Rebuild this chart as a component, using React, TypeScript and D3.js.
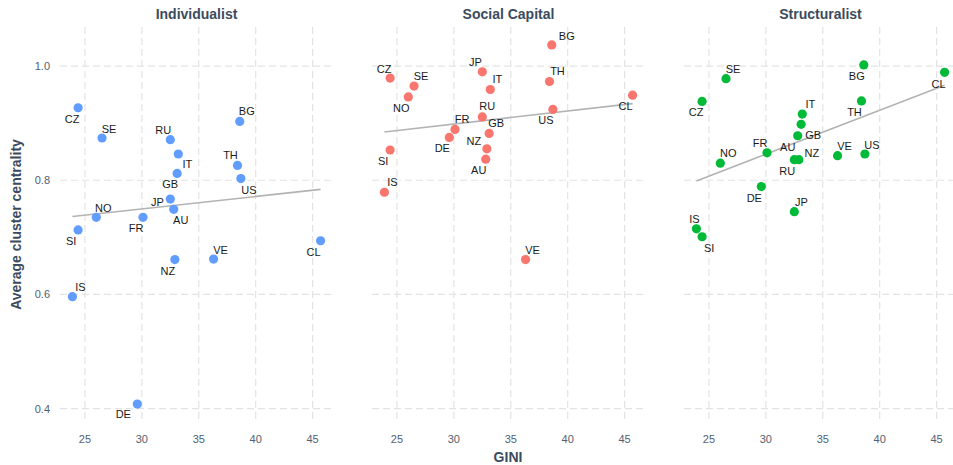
import React from "react";
import { scaleLinear, extent, mean } from "d3";

// countries, GINI and centrality per approach
const countries = ["AU", "BG", "CL", "CZ", "DE", "FR", "GB", "IS", "IT", "JP", "NO", "NZ", "RU", "SE", "SI", "TH", "US", "VE"];
const gini = [32.8, 38.6, 45.7, 24.4, 29.6, 30.1, 33.1, 23.9, 33.2, 32.5, 26.0, 32.9, 32.5, 26.5, 24.4, 38.4, 38.7, 36.3];
const individualist = [0.749, 0.903, 0.694, 0.927, 0.408, 0.735, 0.812, 0.596, 0.846, 0.767, 0.735, 0.661, 0.871, 0.874, 0.713, 0.826, 0.803, 0.662];
const socialCapital = [0.837, 1.037, 0.949, 0.979, 0.875, 0.889, 0.882, 0.779, 0.959, 0.99, 0.946, 0.855, 0.911, 0.965, 0.853, 0.973, 0.924, 0.661];
const structuralist = [0.878, 1.002, 0.989, 0.938, 0.789, 0.848, 0.898, 0.715, 0.916, 0.745, 0.83, 0.836, 0.836, 0.978, 0.701, 0.939, 0.846, 0.843];
const panelTitles = ["Individualist", "Social Capital", "Structuralist"];
const xTicks = [25, 30, 35, 40, 45];
const yTicks = [0.4, 0.6, 0.8, 1.0];

// label placement (px offset from the point), like ggrepel put them
const nudges: Record<string, number[]>[] = [
  { AU: [7, 11], BG: [7, -10], CL: [-7, 11], CZ: [-6, 11], DE: [-14, 10], FR: [-7, 11], GB: [-7, 11], IS: [8, -10], IT: [9, 10], JP: [-13, 3], NO: [7, -9], NZ: [-7, 11], RU: [-7, -10], SE: [7, -9], SI: [-7, 11], TH: [-7, -10], US: [8, 11], VE: [7, -9] },
  { AU: [-7, 11], BG: [15, -9], CL: [-7, 11], CZ: [-6, -9], DE: [-7, 11], FR: [7, -10], GB: [7, -10], IS: [8, -10], IT: [7, -10], JP: [-7, -10], NO: [-7, 11], NZ: [-13, -8], RU: [5, -11], SE: [7, -10], SI: [-7, 11], TH: [8, -10], US: [-7, 11], VE: [7, -10] },
  { AU: [-10, 11], BG: [-7, 11], CL: [-6, 12], CZ: [-6, 11], DE: [-7, 11], FR: [-7, -10], GB: [12, 11], IS: [-2, -10], IT: [8, -10], JP: [7, -10], NO: [8, -10], NZ: [13, -7], RU: [-7, 11], SE: [7, -10], SI: [7, 11], TH: [-7, 11], US: [7, -9], VE: [7, -10] },
];

const colors = ["#619CFF", "#F8766D", "#00BA38"];
const font = "'Liberation Sans', Arial, Helvetica, sans-serif";
const titleColor = "#3b4b5e";
const tickColor = "#52606f";

function expand(ext: [number, number], f = 0.05): [number, number] {
  const r = ext[1] - ext[0];
  return [ext[0] - r * f, ext[1] + r * f];
}

function lm(xs: number[], ys: number[]) {
  const mx = mean(xs)!;
  const my = mean(ys)!;
  let sxy = 0;
  let sxx = 0;
  xs.forEach((x, i) => {
    sxy += (x - mx) * (ys[i] - my);
    sxx += (x - mx) * (x - mx);
  });
  const b = sxy / sxx;
  return { a: my - b * mx, b };
}

export default function App() {
  const width = 953;
  const height = 465;
  const top = 27;
  const bottom = 422;
  const panelW = 273;
  const lefts = [60, 372, 684];

  const series = [individualist, socialCapital, structuralist];
  const xDomain = expand(extent(gini) as [number, number]);
  const yDomain = expand(extent(series.flat()) as [number, number]);
  const y = scaleLinear().domain(yDomain).range([bottom, top]);
  const gx = extent(gini) as [number, number];

  return (
    <svg width={width} height={height} style={{ position: "absolute", left: 0, top: 0, background: "#fff" }} fontFamily={font}>
      {/* y axis labels */}
      {yTicks.map((t) => (
        <text key={t} x={50} y={y(t)} textAnchor="end" dominantBaseline="central" fontSize={11} fill={tickColor}>
          {t.toFixed(1)}
        </text>
      ))}
      <text
        transform={`translate(16,${(top + bottom) / 2}) rotate(-90)`}
        textAnchor="middle"
        dominantBaseline="central"
        fontSize={14}
        fontWeight="bold"
        fill={titleColor}
      >
        Average cluster centrality
      </text>

      {series.map((vals, p) => {
        const x = scaleLinear().domain(xDomain).range([lefts[p], lefts[p] + panelW]);
        const fit = lm(gini, vals);
        return (
          <g key={p}>
            <text x={lefts[p] + panelW / 2} y={14} textAnchor="middle" dominantBaseline="central" fontSize={14} fontWeight="bold" fill={titleColor}>
              {panelTitles[p]}
            </text>
            {xTicks.map((t) => (
              <line key={"v" + t} x1={x(t)} x2={x(t)} y1={top} y2={bottom} stroke="#e3e3e3" strokeWidth={1.2} strokeDasharray="7,4" />
            ))}
            {yTicks.map((t) => (
              <line key={"h" + t} x1={lefts[p]} x2={lefts[p] + panelW} y1={y(t)} y2={y(t)} stroke="#e3e3e3" strokeWidth={1.2} strokeDasharray="7,4" />
            ))}
            {xTicks.map((t) => (
              <text key={"l" + t} x={x(t)} y={439} textAnchor="middle" dominantBaseline="central" fontSize={11} fill={tickColor}>
                {t}
              </text>
            ))}
            <line
              x1={x(gx[0])}
              x2={x(gx[1])}
              y1={y(fit.a + fit.b * gx[0])}
              y2={y(fit.a + fit.b * gx[1])}
              stroke="#b3b3b3"
              strokeWidth={1.6}
            />
            {vals.map((v, i) => (
              <circle key={countries[i]} cx={x(gini[i])} cy={y(v)} r={4.6} fill={colors[p]} />
            ))}
            {vals.map((v, i) => {
              const [dx, dy] = nudges[p][countries[i]];
              return (
                <text
                  key={"t" + countries[i]}
                  x={x(gini[i]) + dx}
                  y={y(v) + dy}
                  textAnchor="middle"
                  dominantBaseline="central"
                  fontSize={11}
                  fill="#1a1a1a"
                >
                  {countries[i]}
                </text>
              );
            })}
          </g>
        );
      })}

      <text x={508} y={457} textAnchor="middle" dominantBaseline="central" fontSize={14} fontWeight="bold" fill={titleColor}>
        GINI
      </text>
    </svg>
  );
}
